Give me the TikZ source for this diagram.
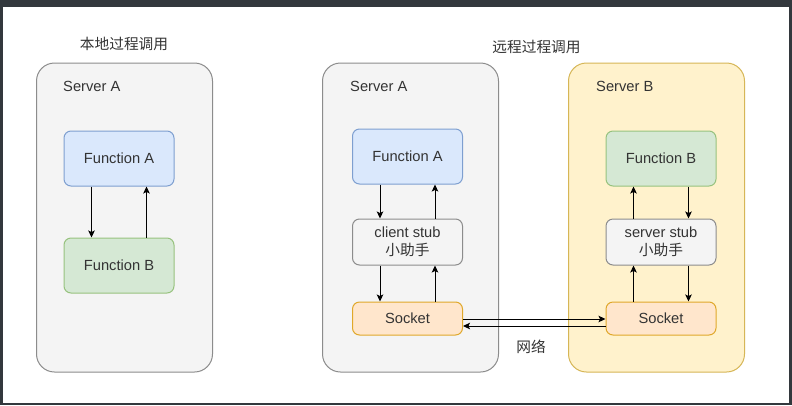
\documentclass[tikz,border=0pt]{standalone}
\usepackage{fontspec}
\setmainfont{Liberation Sans}
\newfontfamily\cjk{Noto Sans CJK SC}
\usetikzlibrary{arrows.meta, positioning, calc}
\definecolor{inkframe}{HTML}{33383D}
\definecolor{inktext}{HTML}{333333}
\definecolor{inkgray}{HTML}{8C8C8C}
\definecolor{papergray}{HTML}{F4F4F4}
\definecolor{inkyellow}{HTML}{D6B656}
\definecolor{paperyellow}{HTML}{FFF2CC}
\definecolor{inkblue}{HTML}{7E9FD0}
\definecolor{paperblue}{HTML}{DAE8FC}
\definecolor{inkgreen}{HTML}{97C27E}
\definecolor{papergreen}{HTML}{D5E8D4}
\definecolor{inkorange}{HTML}{E0A82A}
\definecolor{paperorange}{HTML}{FFE6CC}
\newcommand{\txt}{\fontsize{14.7}{18.5}\selectfont}

\begin{document}
\begin{tikzpicture}[x=1pt, y=-1pt,
      >={Stealth[length=7pt, width=6.5pt, inset=1.5pt]},
      every node/.style={text=inktext, font=\txt},
      server/.style={draw=inkgray, fill=papergray, line width=1pt,
                     rounded corners=18pt, minimum width=176pt,
                     minimum height=309pt},
      remote/.style={server, draw=inkyellow, fill=paperyellow},
      tag/.style={anchor=west, inner sep=0pt},
      func/.style={draw=inkblue, fill=paperblue, line width=1pt,
                   rounded corners=7pt, minimum width=110pt,
                   minimum height=55pt, inner sep=0pt},
      funcb/.style={func, draw=inkgreen, fill=papergreen},
      stub/.style={func, draw=inkgray, fill=papergray, minimum height=46pt,
                   align=center},
      sock/.style={func, draw=inkorange, fill=paperorange, minimum height=33pt},
      call/.style={->, line width=1pt, draw=black}]
    \fill[inkframe] (0,0) rectangle (792,405);
    \fill[white] (3,7) rectangle (789,403);
    \useasboundingbox (0,0) rectangle (792,405);

    \node (t1) at (124,44) {\cjk 本地过程调用};
    \node (t2) at (536.5,47) {\cjk 远程过程调用};

    \node[server] (lsv) at (124.5,217.5) {};
    \node[server] (csv) at (410.5,217.5) {};
    \node[remote] (ssv) at (656.5,217.5) {};
    \node[tag] (lsvt) at (63,86) {Server A};
    \node[tag] (csvt) at (350,86) {Server A};
    \node[tag] (ssvt) at (596,86) {Server B};

    \node[func]  (la) at (119,158.5) {Function A};
    \node[funcb] (lb) at (119,265.5) {Function B};
    \draw[call] ([xshift=-27.5pt]la.south) -- ([xshift=-27.5pt]lb.north);
    \draw[call] ([xshift=27.5pt]lb.north) -- ([xshift=27.5pt]la.south);

    \node[func] (ca) at (407.5,156.5) {Function A};
    \node[stub] (cs) at (407.5,242) {client stub\\{\cjk 小助手}};
    \node[sock] (ck) at (407.5,318.5) {Socket};
    \draw[call] ([xshift=-27.5pt]ca.south) -- ([xshift=-27.5pt]cs.north);
    \draw[call] ([xshift=27.5pt]cs.north) -- ([xshift=27.5pt]ca.south);
    \draw[call] ([xshift=-27.5pt]cs.south) -- ([xshift=-27.5pt]ck.north);
    \draw[call] ([xshift=27.5pt]ck.north) -- ([xshift=27.5pt]cs.south);

    \node[funcb] (sb) at (661,158.5) {Function B};
    \node[stub]  (ss) at (661,242) {server stub\\{\cjk 小助手}};
    \node[sock]  (sk) at (661,318.5) {Socket};
    \draw[call] ([xshift=-27.5pt]ss.north) -- ([xshift=-27.5pt]sb.south);
    \draw[call] ([xshift=27.5pt]sb.south) -- ([xshift=27.5pt]ss.north);
    \draw[call] ([xshift=-27.5pt]sk.north) -- ([xshift=-27.5pt]ss.south);
    \draw[call] ([xshift=27.5pt]ss.south) -- ([xshift=27.5pt]sk.north);

    \draw[call] ([yshift=-0.5pt]ck.east) -- ([yshift=-0.5pt]sk.west);
    \draw[call] ([yshift=-7.5pt]sk.west) -- ([yshift=-7.5pt]ck.east);
    \node (net) at (531,347) {\cjk 网络};
  \end{tikzpicture}
\end{document}
